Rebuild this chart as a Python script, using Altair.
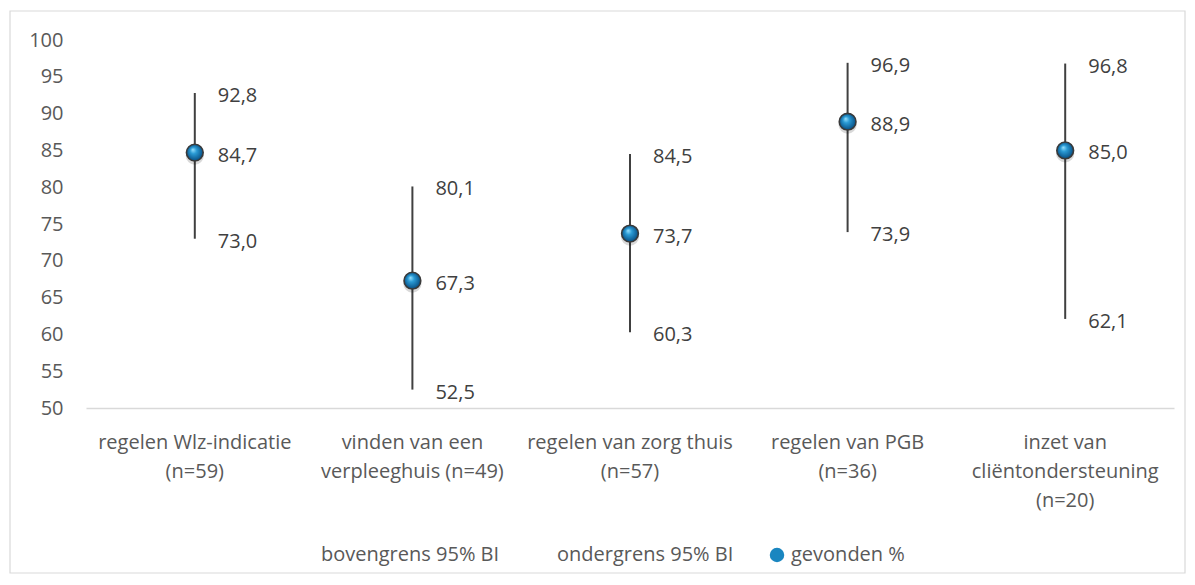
import altair as alt
import pandas as pd

categories = [
    "regelen Wlz-indicatie|(n=59)",
    "vinden van een|verpleeghuis (n=49)",
    "regelen van zorg thuis|(n=57)",
    "regelen van PGB|(n=36)",
    "inzet van|cliëntondersteuning|(n=20)",
]
found = [84.7, 67.3, 73.7, 88.9, 85.0]
lower = [73.0, 52.5, 60.3, 73.9, 62.1]
upper = [92.8, 80.1, 84.5, 96.9, 96.8]
series = ["bovengrens 95% BI", "ondergrens 95% BI", "gevonden %"]
y_ticks = list(range(50, 101, 5))

FONT = "Open Sans"
FS = 20

df = pd.DataFrame({"cat": categories, "found": found, "lower": lower, "upper": upper,
                   "series": series[2]})

lab_rows = []
for c, f, lo, up in zip(categories, found, lower, upper):
    for v in (up, f, lo):
        lab_rows.append({"cat": c, "v": v, "txt": f"{v:.1f}".replace(".", ",")})
labdf = pd.DataFrame(lab_rows)

xaxis = alt.Axis(labelAngle=0, ticks=False, domainColor="#d9d9d9", domainWidth=1.5,
                 labelExpr="split(datum.label, '|')", labelLimit=0, labelOverlap=False,
                 labelBound=False, labelPadding=24, labelLineHeight=29,
                 labelFontSize=FS, labelColor="#595959", labelFont=FONT)
yscale = alt.Scale(domain=[50, 100], nice=False, zero=False)
yaxis = alt.Axis(values=y_ticks, grid=False, domain=False, ticks=False, labelPadding=23,
                 labelOverlap=False, labelBound=False,
                 labelFontSize=FS, labelColor="#595959", labelFont=FONT)


def xenc():
    return alt.X("cat:N", sort=categories, title=None, axis=xaxis)


def yenc(field):
    return alt.Y(field, scale=yscale, axis=yaxis, title=None)


base = alt.Chart(df)

border = base.mark_rect(fill="transparent", stroke="#d9d9d9", strokeWidth=1.2, clip=False).encode(
    x=alt.value(-76), x2=alt.value(1099), y=alt.value(-29), y2=alt.value(533)
).transform_filter("datum.cat == '" + categories[0] + "'")

rules = base.mark_rule(color="#404040", strokeWidth=2).encode(
    x=xenc(),
    y=yenc("lower:Q"),
    y2="upper:Q",
)

shadow = base.mark_circle(color="#000000", opacity=0.15, size=330).encode(
    x=xenc(),
    y=yenc("found:Q"),
    yOffset=alt.value(3),
)

flat = base.mark_point(filled=True, size=280, strokeWidth=0, opacity=1).encode(
    x=xenc(),
    y=yenc("found:Q"),
    fill=alt.Fill("series:N",
                  scale=alt.Scale(domain=series,
                                  range=["rgba(0,0,0,0)", "rgba(0,0,0,0)", "#1a86c0"]),
                  legend=alt.Legend(title=None, orient="none", direction="horizontal",
                                    legendX=211, legendY=505, symbolType="circle",
                                    symbolSize=210, symbolStrokeWidth=0, labelOffset=4,
                                    columnPadding=33, labelFontSize=FS, labelFont=FONT,
                                    labelColor="#595959", labelLimit=0)),
)

gradient = {
    "gradient": "radial",
    "x1": 0.38, "y1": 0.32, "r1": 0.0,
    "x2": 0.5, "y2": 0.5, "r2": 0.55,
    "stops": [
        {"offset": 0.0, "color": "#9be3ff"},
        {"offset": 0.35, "color": "#2a9ad4"},
        {"offset": 0.8, "color": "#0f5f95"},
        {"offset": 1.0, "color": "#0a3f66"},
    ],
}
balls = base.mark_point(filled=True, fill=gradient, size=280, stroke="#3a3a3a",
                        strokeWidth=1.6, opacity=1).encode(
    x=xenc(),
    y=yenc("found:Q"),
)

labels = alt.Chart(labdf).mark_text(align="left", baseline="middle", dx=23, dy=3,
                                    fontSize=FS, font=FONT, color="#404040").encode(
    x=xenc(),
    y=yenc("v:Q"),
    text="txt:N",
)

chart = alt.layer(border, rules, shadow, flat, balls, labels).properties(
    width=1088, height=368,
    autosize=alt.AutoSizeParams(type="none"),
    padding={"left": 78, "top": 32, "right": 12, "bottom": 166},
    background="white",
).configure(font=FONT, view=alt.ViewConfig(stroke="transparent", strokeWidth=0))

chart.save("out.html", embed_options={"renderer": "svg", "actions": False})
